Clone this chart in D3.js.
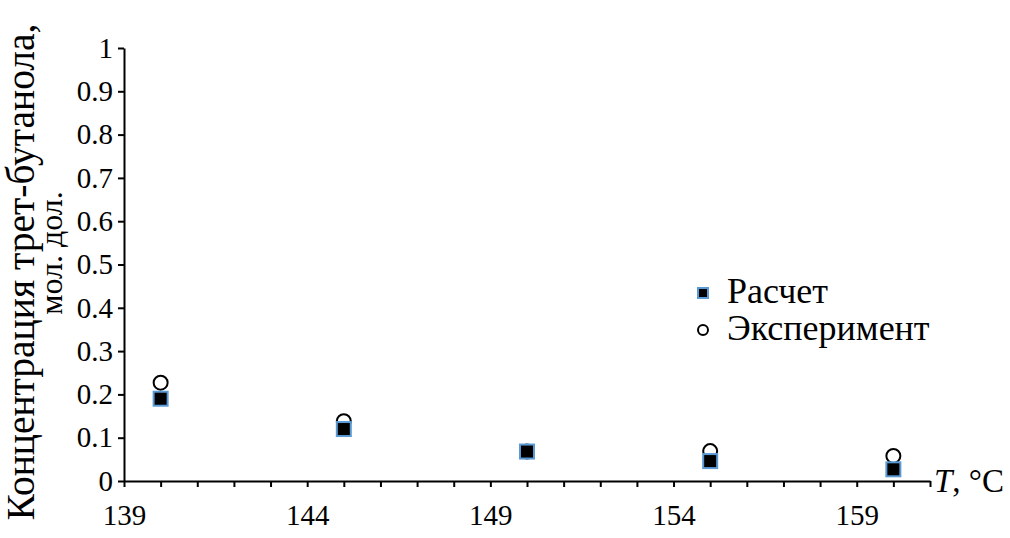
<!DOCTYPE html>
<html>
<head>
<meta charset="utf-8">
<script src="https://cdn.jsdelivr.net/npm/d3@7"></script>
<style>
  html, body { margin: 0; padding: 0; background: #fff; }
  svg { display: block; }
  svg text { font-family: "Liberation Serif", "Times New Roman", Tinos, serif !important; }
</style>
</head>
<body>
<div id="chart"></div>
<script>
// Температура, °C
const temps = [140, 145, 150, 155, 160];
// Концентрация трет-бутанола, мол. дол.
const calc = [0.19, 0.12, 0.068, 0.046, 0.027];
const expt = [0.227, 0.138, 0.068, 0.069, 0.058];
const xLabels = [139, 144, 149, 154, 159];
const yTicks = [0, 0.1, 0.2, 0.3, 0.4, 0.5, 0.6, 0.7, 0.8, 0.9, 1];

const FONT = '"Liberation Serif"';
const W = 1010, H = 538;
const svg = d3.select("#chart").append("svg").attr("width", W).attr("height", H)
  .style("font-family", FONT);

const x = d3.scaleLinear().domain([139, 161]).range([124, 930]);
const y = d3.scaleLinear().domain([0, 1]).range([481, 48]);

// ось Y
const gy = svg.append("g").attr("transform", `translate(${x(139)},0)`)
  .call(d3.axisLeft(y).tickValues(yTicks).tickSize(6).tickSizeOuter(0).tickPadding(5)
    .tickFormat(d => d3.format("")(+d.toFixed(1))));
// ось X
const gx = svg.append("g").attr("transform", `translate(0,${y(0)})`)
  .call(d3.axisBottom(x).tickValues(d3.range(139, 162)).tickSize(6).tickSizeOuter(0).tickPadding(17)
    .tickFormat(d => xLabels.includes(d) ? d : ""));

[gx, gy].forEach(g => {
  g.attr("font-family", null).attr("font-size", null);
  g.select(".domain").attr("stroke", "#000").attr("stroke-width", 2);
  g.selectAll(".tick line").attr("stroke", "#000").attr("stroke-width", 2);
  g.selectAll(".tick text").attr("fill", "#000")
    .style("font-family", FONT).style("font-size", "29px");
});
gx.selectAll(".tick text").attr("dy", "0.71em");

// точки: эксперимент (под), расчет (сверху)
svg.append("g").selectAll("circle").data(temps).join("circle")
  .attr("cx", d => x(d)).attr("cy", (d, i) => y(expt[i])).attr("r", 7)
  .attr("fill", "#fff").attr("stroke", "#000").attr("stroke-width", 2);

svg.append("g").selectAll("rect").data(temps).join("rect")
  .attr("x", d => x(d) - 7).attr("y", (d, i) => y(calc[i]) - 7)
  .attr("width", 14).attr("height", 14)
  .attr("fill", "#000").attr("stroke", "#5B9BD5").attr("stroke-width", 2);

// легенда
svg.append("rect").attr("x", 698).attr("y", 288).attr("width", 10).attr("height", 10)
  .attr("fill", "#000").attr("stroke", "#5B9BD5").attr("stroke-width", 2);
svg.append("circle").attr("cx", 703).attr("cy", 330).attr("r", 5)
  .attr("fill", "#fff").attr("stroke", "#000").attr("stroke-width", 2);
svg.append("text").attr("x", 727).attr("y", 303)
  .style("font-family", FONT).style("font-size", "36px").text("Расчет");
svg.append("text").attr("x", 727).attr("y", 340)
  .style("font-family", FONT).style("font-size", "36px").text("Эксперимент");

// подпись оси X
const xt = svg.append("text").attr("x", 934).attr("y", 492)
  .style("font-family", FONT).style("font-size", "33px");
xt.append("tspan").style("font-style", "italic").text("T");
xt.append("tspan").text(", °C");

// подпись оси Y
svg.append("text").attr("transform", "translate(34,272) rotate(-90)")
  .attr("text-anchor", "middle").style("font-family", FONT).style("font-size", "39.5px")
  .text("Концентрация трет-бутанола,");
svg.append("text").attr("transform", "translate(62,253) rotate(-90)")
  .attr("text-anchor", "middle").style("font-family", FONT).style("font-size", "32px")
  .text("мол. дол.");
</script>
</body>
</html>
